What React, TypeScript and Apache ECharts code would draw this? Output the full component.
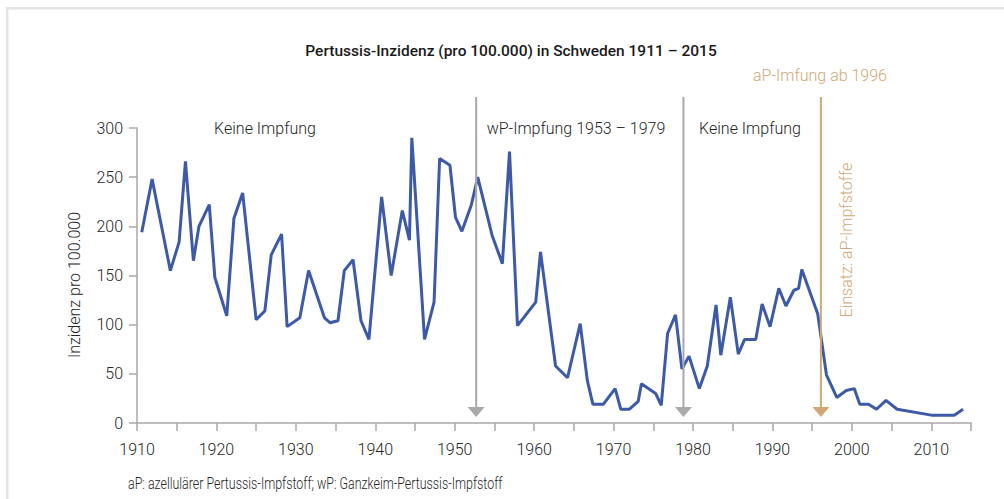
import React, { useEffect, useRef } from "react";
import * as echarts from "echarts";

// Years (as positioned in the picture) and incidence per 100,000
const years = [
  1910.6, 1911.9, 1914.2, 1915.3, 1916.1, 1917.1, 1917.8, 1919.1, 1919.8, 1921.3,
  1922.2, 1923.3, 1925.0, 1926.1, 1926.9, 1928.2, 1928.9, 1930.5, 1931.6, 1933.6,
  1934.3, 1935.3, 1936.1, 1937.2, 1938.2, 1939.2, 1940.8, 1942.0, 1943.4, 1944.3,
  1944.6, 1946.2, 1947.4, 1948.1, 1949.4, 1950.1, 1950.9, 1952.1, 1952.9, 1954.7,
  1956.0, 1956.9, 1957.9, 1960.2, 1960.8, 1962.7, 1964.2, 1965.8, 1966.7, 1967.4,
  1968.7, 1970.2, 1970.9, 1972.0, 1973.1, 1973.5, 1975.3, 1976.0, 1976.8, 1977.8,
  1978.6, 1979.5, 1980.8, 1981.8, 1982.9, 1983.5, 1984.7, 1985.7, 1986.5, 1987.9,
  1988.7, 1989.7, 1990.8, 1991.7, 1992.7, 1993.3, 1993.7, 1995.7, 1996.8, 1998.1,
  1999.3, 2000.3, 2001.0, 2002.1, 2003.1, 2004.3, 2005.7, 2010.0, 2012.9, 2014.0,
];
const incidence = [
  194, 248, 155, 184, 266, 165, 200, 222, 148, 109,
  208, 234, 105, 114, 171, 192, 98, 107, 155, 107,
  102, 104, 155, 166, 104, 85, 230, 150, 216, 186,
  290, 85, 123, 269, 262, 209, 195, 222, 250, 191,
  162, 276, 99, 123, 174, 58, 46, 101, 43, 19,
  19, 35, 14, 14, 22, 40, 30, 18, 91, 110,
  55, 68, 35, 58, 120, 69, 128, 70, 85, 85,
  121, 98, 137, 119, 135, 137, 156, 111, 49, 26,
  33, 35, 19, 19, 14, 23, 14, 8, 8, 14,
];

const xTicks = { min: 1910, max: 2015, interval: 5 };
const yTicks = { min: 0, max: 300, interval: 50 };

// Annotation arrows (year positions as drawn)
const arrowYears = [1952.7, 1978.8, 1996.1];
const arrowKinds = ["gray", "gray", "tan"];

const title = "Pertussis-Inzidenz (pro 100.000) in Schweden 1911 – 2015";
const yName = "Inzidenz pro 100.000";
const footnote = "aP: azellulärer Pertussis-Impfstoff; wP: Ganzkeim-Pertussis-Impfstoff";
const periodLabels = ["Keine Impfung", "wP-Impfung 1953 – 1979", "Keine Impfung"];
const apLabel = "aP-Imfung ab 1996";
const apVertical = "Einsatz: aP-Impfstoffe";

const FONT = "Roboto, 'Noto Sans', sans-serif";
const TXT = "#262626";
const GRAY = "#a9a9a9";
const TAN = "#d1a874";
const BLUE = "#3d5aa9";

export default function App() {
  const ref = useRef<HTMLDivElement>(null);
  useEffect(() => {
    if (!ref.current) return;
    const chart = echarts.init(ref.current, undefined, { renderer: "svg" });
    chart.setOption({
      animation: false,
      backgroundColor: "#ffffff",
      grid: { left: 137, right: 33, top: 128, bottom: 76, containLabel: false },
      xAxis: {
        type: "value",
        min: xTicks.min,
        max: xTicks.max,
        interval: xTicks.interval,
        axisLine: { show: true, lineStyle: { color: GRAY, width: 1.5 } },
        axisTick: { show: true, length: 8, lineStyle: { color: GRAY, width: 1.5 } },
        splitLine: { show: false },
        axisLabel: {
          margin: 18,
          fontSize: 16,
          fontWeight: 300,
          fontFamily: FONT,
          color: TXT,
          formatter: (v: number) => (v % 10 === 0 ? String(v) : ""),
          showMaxLabel: true,
        },
      },
      yAxis: {
        type: "value",
        min: yTicks.min,
        max: yTicks.max,
        interval: yTicks.interval,
        axisLine: { show: true, lineStyle: { color: GRAY, width: 1.5 } },
        axisTick: { show: true, length: 8, lineStyle: { color: GRAY, width: 1.5 } },
        splitLine: { show: false },
        axisLabel: { margin: 14, fontSize: 16, fontWeight: 300, fontFamily: FONT, color: TXT },
      },
      series: [
        {
          type: "line",
          data: years.map((y, i) => [y, incidence[i]]),
          showSymbol: false,
          symbol: "none",
          clip: false,
          lineStyle: { color: BLUE, width: 3 },
        },
      ],
    });

    const px = (x: number, y: number) =>
      chart.convertToPixel({ gridIndex: 0 }, [x, y]) as number[];
    const top = px(1910, 300)[1] - 31;
    const base = px(1910, 0)[1];
    const graphics: any[] = [
      { type: "rect", shape: { x: 6, y: 7, width: 1100, height: 2.5 }, style: { fill: "#e3e5e5" }, z: 100 },
      { type: "rect", shape: { x: 6, y: 7, width: 2.5, height: 600 }, style: { fill: "#e3e5e5" }, z: 100 },
      {
        type: "text", x: 511, y: 51, z: 100,
        style: { text: title, font: `500 15.5px ${FONT}`, fill: "#1a1a1a", align: "center", verticalAlign: "middle" },
      },
      {
        type: "text", x: 74, y: 285, rotation: Math.PI / 2, z: 100,
        style: { text: yName, font: `300 16px ${FONT}`, fill: TXT, align: "center", verticalAlign: "middle" },
      },
      {
        type: "text", x: 128, y: 483, z: 100, scaleX: 0.73,
        style: { text: footnote, font: `300 17px ${FONT}`, fill: TXT, align: "left", verticalAlign: "middle" },
      },
      {
        type: "text", x: 265, y: 128, z: 100,
        style: { text: periodLabels[0], font: `300 16px ${FONT}`, fill: TXT, align: "center", verticalAlign: "middle" },
      },
      {
        type: "text", x: 576, y: 128, z: 100,
        style: { text: periodLabels[1], font: `300 16px ${FONT}`, fill: TXT, align: "center", verticalAlign: "middle" },
      },
      {
        type: "text", x: 750, y: 128, z: 100,
        style: { text: periodLabels[2], font: `300 16px ${FONT}`, fill: TXT, align: "center", verticalAlign: "middle" },
      },
      {
        type: "text", x: 820, y: 75, z: 100,
        style: { text: apLabel, font: `300 16px ${FONT}`, fill: TAN, align: "center", verticalAlign: "middle" },
      },
      {
        type: "text", x: 846, y: 240, rotation: Math.PI / 2, z: 100,
        style: { text: apVertical, font: `300 16px ${FONT}`, fill: TAN, align: "center", verticalAlign: "middle" },
      },
    ];
    arrowYears.forEach((yr, i) => {
      const x = px(yr, 0)[0];
      const col = arrowKinds[i] === "tan" ? TAN : GRAY;
      const tip = base - 6;
      graphics.push({
        type: "line", z: 50,
        shape: { x1: x, y1: top, x2: x, y2: tip - 8 },
        style: { stroke: col, lineWidth: 2 },
      });
      graphics.push({
        type: "polygon", z: 50,
        shape: { points: [[x - 8.5, tip - 10], [x + 8.5, tip - 10], [x, tip]] },
        style: { fill: col },
      });
    });
    chart.setOption({ graphic: graphics });

    return () => chart.dispose();
  }, []);
  return (
    <div
      ref={ref}
      style={{ position: "absolute", left: 0, top: 0, width: 1004, height: 499 }}
    />
  );
}
